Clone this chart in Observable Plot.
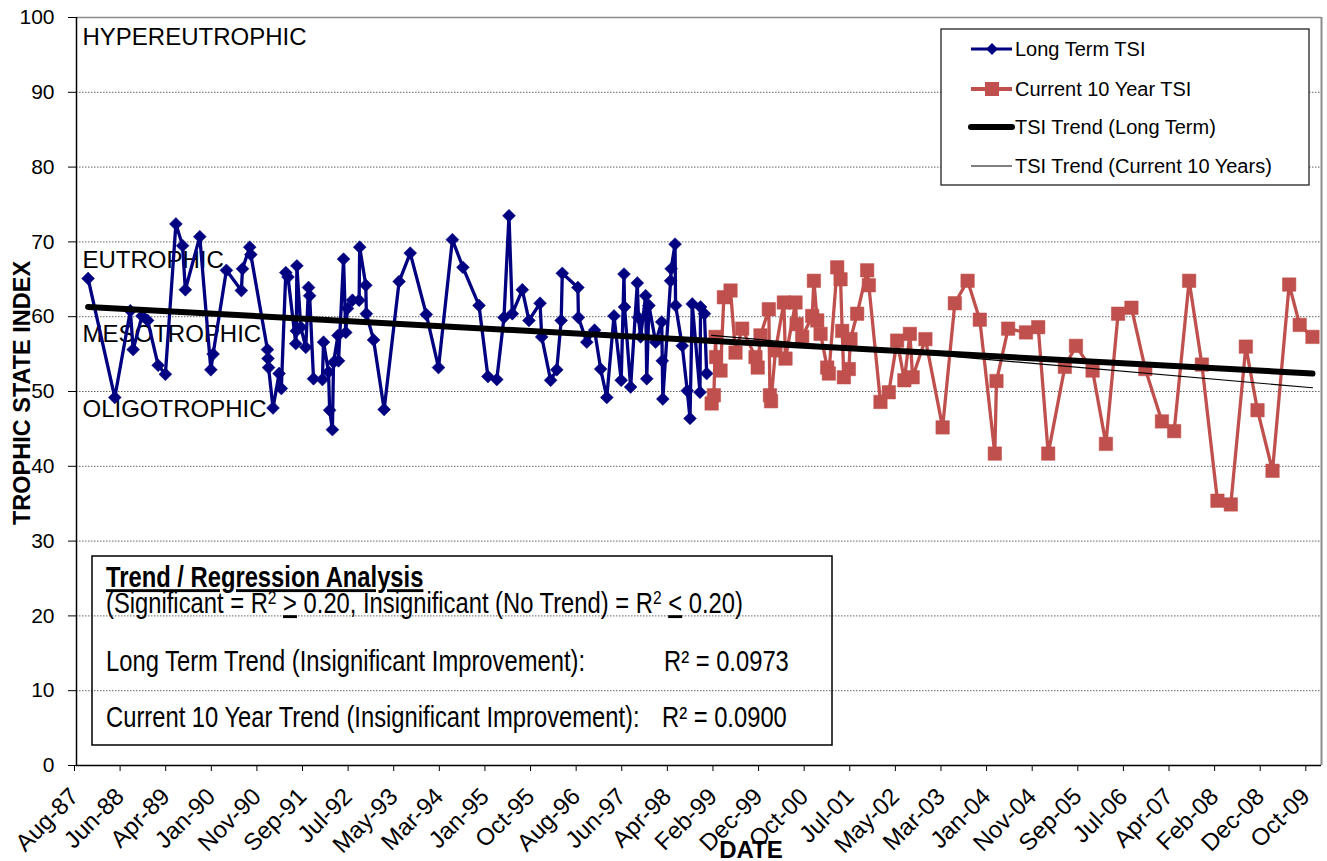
<!DOCTYPE html>
<html>
<head>
<meta charset="utf-8">
<script src="https://cdn.jsdelivr.net/npm/d3@7"></script>
<script src="https://cdn.jsdelivr.net/npm/@observablehq/plot@0.6"></script>
<style>
  html, body { margin: 0; padding: 0; background: #fff; }
  #chart { width: 1327px; height: 861px; }
</style>
</head>
<body>
<div id="chart"></div>
<script>
// ---------------- DATA ----------------
// Sampling dates as decimal years
const longTermYears = [
  1987.82, 1988.30, 1988.58, 1988.63, 1988.79, 1988.89, 1989.08, 1989.21, 1989.40, 1989.52,
  1989.57, 1989.83, 1990.03, 1990.07, 1990.31, 1990.58, 1990.60, 1990.73, 1990.75, 1991.05,
  1991.06, 1991.07, 1991.15, 1991.26, 1991.30, 1991.38, 1991.42, 1991.56, 1991.57, 1991.58,
  1991.65, 1991.74, 1991.79, 1991.81, 1991.88, 1992.04, 1992.06, 1992.15, 1992.17, 1992.22,
  1992.24, 1992.32, 1992.33, 1992.42, 1992.46, 1992.49, 1992.58, 1992.70, 1992.71, 1992.82,
  1992.83, 1992.96, 1993.15, 1993.42, 1993.62, 1993.91, 1994.13, 1994.38, 1994.57, 1994.86,
  1995.02, 1995.18, 1995.31, 1995.40, 1995.46, 1995.64, 1995.76, 1995.96, 1995.99, 1996.15,
  1996.26, 1996.34, 1996.36, 1996.64, 1996.65, 1996.80, 1996.94, 1997.05, 1997.16, 1997.29,
  1997.42, 1997.47, 1997.48, 1997.59, 1997.71, 1997.73, 1997.77, 1997.86, 1997.88, 1997.92,
  1998.04, 1998.15, 1998.16, 1998.17, 1998.31, 1998.32, 1998.39, 1998.40, 1998.52, 1998.61,
  1998.66, 1998.70, 1998.84, 1998.85, 1998.92, 1998.96
];
const longTermTSI = [
  65.1, 49.2, 60.8, 55.6, 60.1, 59.5, 53.5, 52.3, 72.4, 69.5,
  63.6, 70.7, 52.9, 55.0, 66.2, 63.5, 66.4, 69.3, 68.3, 55.6,
  54.4, 53.2, 47.8, 52.4, 50.4, 65.9, 65.3, 56.4, 58.1, 66.8,
  58.6, 55.9, 63.9, 62.8, 51.7, 51.6, 56.6, 52.6, 47.5, 44.9,
  53.9, 57.5, 54.1, 67.7, 57.9, 61.1, 62.2, 62.2, 69.3, 64.2,
  60.4, 56.9, 47.6, 64.7, 68.5, 60.3, 53.2, 70.3, 66.6, 61.5,
  52.0, 51.6, 59.9, 73.5, 60.4, 63.6, 59.5, 61.8, 57.3, 51.5,
  52.9, 59.5, 65.8, 63.9, 59.9, 56.6, 58.2, 53.0, 49.2, 60.1,
  51.5, 65.7, 61.3, 50.6, 64.5, 59.9, 57.3, 62.8, 51.7, 61.5,
  56.6, 59.3, 54.1, 49.0, 64.8, 66.4, 69.7, 61.5, 56.1, 50.1,
  46.4, 61.7, 49.9, 61.3, 60.4, 52.4
];
const currentYears = [
  1999.05, 1999.09, 1999.12, 1999.13, 1999.21, 1999.27, 1999.39, 1999.48, 1999.60, 1999.84,
  1999.88, 1999.93, 2000.08, 2000.10, 2000.12, 2000.20, 2000.35, 2000.38, 2000.56, 2000.58,
  2000.68, 2000.86, 2000.89, 2000.95, 2001.01, 2001.13, 2001.16, 2001.31, 2001.37, 2001.40,
  2001.43, 2001.52, 2001.55, 2001.67, 2001.85, 2001.88, 2002.09, 2002.24, 2002.39, 2002.52,
  2002.62, 2002.67, 2002.90, 2003.21, 2003.43, 2003.66, 2003.88, 2004.15, 2004.18, 2004.39,
  2004.71, 2004.93, 2005.11, 2005.41, 2005.61, 2005.91, 2006.15, 2006.37, 2006.61, 2006.86,
  2007.16, 2007.38, 2007.65, 2007.88, 2008.16, 2008.40, 2008.67, 2008.88, 2009.15, 2009.45,
  2009.64, 2009.87
];
const currentTSI = [
  48.4, 49.5, 57.3, 54.6, 52.8, 62.6, 63.5, 55.2, 58.4, 54.6,
  53.2, 57.5, 61.0, 49.5, 48.7, 55.5, 61.9, 54.4, 61.9, 59.0,
  57.3, 60.1, 64.8, 59.5, 57.7, 53.2, 52.4, 66.6, 65.0, 58.1,
  51.9, 53.0, 57.0, 60.4, 66.2, 64.2, 48.6, 49.9, 56.8, 51.5,
  57.7, 51.9, 57.0, 45.2, 61.8, 64.8, 59.6, 41.7, 51.4, 58.4,
  57.9, 58.6, 41.7, 53.3, 56.1, 52.8, 43.0, 60.4, 61.2, 53.0,
  46.0, 44.7, 64.8, 53.6, 35.4, 34.9, 56.0, 47.5, 39.4, 64.3,
  58.9, 57.3
];
const trendLongYears = [1987.82, 2009.87];
const trendLongTSI = [61.3, 52.4];
const trendCurrentYears = [1999.05, 2009.87];
const trendCurrentTSI = [57.5, 50.5];

const yTicks = [0, 10, 20, 30, 40, 50, 60, 70, 80, 90, 100];
const xTickLabels = ["Aug-87","Jun-88","Apr-89","Jan-90","Nov-90","Sep-91","Jul-92","May-93","Mar-94","Jan-95",
  "Oct-95","Aug-96","Jun-97","Apr-98","Feb-99","Dec-99","Oct-00","Jul-01","May-02","Mar-03",
  "Jan-04","Nov-04","Sep-05","Jul-06","Apr-07","Feb-08","Dec-08","Oct-09"];
const zoneLabels = ["HYPEREUTROPHIC", "EUTROPHIC", "MESOTROPHIC", "OLIGOTROPHIC"];
const zoneTSI = [97.3, 67.5, 57.6, 47.6];
const seriesNames = ["Long Term TSI", "Current 10 Year TSI", "TSI Trend (Long Term)", "TSI Trend (Current 10 Years)"];
const boxTitle = "Trend / Regression Analysis";
const trendNames = ["Long Term Trend (Insignificant Improvement):", "Current 10 Year Trend (Insignificant Improvement):"];
const trendR2 = ["0.0973", "0.0900"];

// ---------------- helpers ----------------
function decYear(y) {
  const yr = Math.floor(y);
  const s = Date.UTC(yr, 0, 1), e = Date.UTC(yr + 1, 0, 1);
  return new Date(s + (y - yr) * (e - s));
}
const DAY = 864e5;
const axisStart = Date.UTC(1987, 7, 12);          // Excel date axis minimum
const xTickDates = xTickLabels.map((_, i) => new Date(axisStart + i * 300 * DAY)); // 300-day major unit
const xDomain = [new Date(axisStart), new Date(axisStart + 8190 * DAY)];
const labelByTime = new Map(xTickDates.map((d, i) => [+d, xTickLabels[i]]));

const longTerm = longTermYears.map((y, i) => ({date: decYear(y), tsi: longTermTSI[i]}));
const current = currentYears.map((y, i) => ({date: decYear(y), tsi: currentTSI[i]}));
const trendLong = trendLongYears.map((y, i) => ({date: decYear(y), tsi: trendLongTSI[i]}));
const trendCurrent = trendCurrentYears.map((y, i) => ({date: decYear(y), tsi: trendCurrentTSI[i]}));
const zones = zoneLabels.map((t, i) => ({label: t, tsi: zoneTSI[i]}));

const BLUE = "#000080", RED = "#C0504D";
const FONT = "'Liberation Sans', Arial, Helvetica, sans-serif";

const chart = Plot.plot({
  width: 1327,
  height: 861,
  marginLeft: 76,
  marginRight: 6,
  marginTop: 17,
  marginBottom: 96,
  style: {fontFamily: FONT, fontSize: "21px", color: "#000", background: "#fff"},
  x: {type: "utc", domain: xDomain, label: null},
  y: {domain: [0, 100], label: null},
  marks: [
    Plot.gridY(yTicks.filter(v => v > 0 && v < 100), {stroke: "#666", strokeOpacity: 1, strokeDasharray: "1.5,1.5"}),
    Plot.ruleY([100], {stroke: "#8c8c8c", strokeWidth: 1.5}),
    Plot.ruleX([xDomain[1]], {stroke: "#8c8c8c", strokeWidth: 2}),
    Plot.text(zones, {y: "tsi", text: "label", frameAnchor: "left", textAnchor: "start", dx: 6, fontSize: 24, fill: "#000"}),
    Plot.line(longTerm, {x: "date", y: "tsi", stroke: BLUE, strokeWidth: 3.3}),
    Plot.dot(longTerm, {x: "date", y: "tsi", symbol: "diamond2", r: 5.8, fill: BLUE, stroke: BLUE, strokeWidth: 0.5}),
    Plot.line(current, {x: "date", y: "tsi", stroke: RED, strokeWidth: 3.3}),
    Plot.dot(current, {x: "date", y: "tsi", symbol: "square", r: 7.6, fill: RED, stroke: RED, strokeWidth: 0.5}),
    Plot.line(trendLong, {x: "date", y: "tsi", stroke: "#000", strokeWidth: 6, strokeLinecap: "round"}),
    Plot.line(trendCurrent, {x: "date", y: "tsi", stroke: "#000", strokeWidth: 1.2}),
    Plot.axisY({ticks: yTicks, tickSize: 8, tickPadding: 14, fontSize: 21, label: null, tickFormat: d => String(d)}),
    Plot.axisX({ticks: xTickDates, tickFormat: d => labelByTime.get(+d), tickRotate: -45, tickSize: 6, tickPadding: 21, dx: -2, fontSize: 24, label: null}),
    Plot.ruleX([xDomain[0]], {stroke: "#000", strokeWidth: 1.5}),
    Plot.ruleY([0], {stroke: "#000", strokeWidth: 1.5})
  ]
});
document.getElementById("chart").appendChild(chart);

// ---------------- overlays: axis titles, legend, regression box ----------------
const svg = d3.select(chart);

svg.append("text")
  .attr("transform", "translate(30,393) rotate(-90)")
  .attr("text-anchor", "middle")
  .attr("font-family", FONT).attr("font-weight", "bold").attr("font-size", 23.5)
  .attr("fill", "#000")
  .text("TROPHIC STATE INDEX");

svg.append("text")
  .attr("x", 751).attr("y", 858)
  .attr("text-anchor", "middle")
  .attr("font-family", FONT).attr("font-weight", "bold").attr("font-size", 24)
  .attr("fill", "#000")
  .text("DATE");

// legend
const lg = svg.append("g").attr("text-anchor", "start");
lg.append("rect").attr("x", 941).attr("y", 29).attr("width", 368).attr("height", 156)
  .attr("fill", "#fff").attr("stroke", "#222").attr("stroke-width", 1.3);
const rowsY = [49, 89, 127, 166];
const lx0 = 971, lx1 = 1012, lxm = 992;
// row 1
lg.append("line").attr("x1", lx0).attr("x2", lx1).attr("y1", rowsY[0]).attr("y2", rowsY[0]).attr("stroke", BLUE).attr("stroke-width", 3);
lg.append("path").attr("d", d3.symbol(d3.symbolDiamond2, 90)()).attr("transform", `translate(${lxm},${rowsY[0]})`).attr("fill", BLUE);
// row 2
lg.append("line").attr("x1", lx0).attr("x2", lx1).attr("y1", rowsY[1]).attr("y2", rowsY[1]).attr("stroke", RED).attr("stroke-width", 4);
lg.append("rect").attr("x", lxm - 7).attr("y", rowsY[1] - 7).attr("width", 14).attr("height", 14).attr("fill", RED);
// row 3
lg.append("line").attr("x1", lx0).attr("x2", lx1).attr("y1", rowsY[2]).attr("y2", rowsY[2]).attr("stroke", "#000").attr("stroke-width", 6).attr("stroke-linecap", "round");
// row 4
lg.append("line").attr("x1", lx0).attr("x2", lx1).attr("y1", rowsY[3]).attr("y2", rowsY[3]).attr("stroke", "#000").attr("stroke-width", 1.2);
seriesNames.forEach((name, i) => {
  lg.append("text").attr("x", 1015).attr("y", rowsY[i]).attr("dy", "0.35em")
    .attr("text-anchor", "start")
    .attr("font-family", FONT).attr("font-size", 20).attr("fill", "#000").text(name);
});

// regression analysis box
svg.append("rect").attr("x", 92).attr("y", 556).attr("width", 740).attr("height", 189)
  .attr("fill", "none").attr("stroke", "#000").attr("stroke-width", 1.5);

function narrow(x, y) {
  return svg.append("g").attr("transform", `translate(${x},${y}) scale(0.82,1)`)
    .append("text").attr("x", 0).attr("y", 0)
    .attr("text-anchor", "start")
    .attr("font-family", FONT).attr("font-size", 29).attr("fill", "#000");
}
narrow(106, 587).attr("font-weight", "bold").attr("text-decoration", "underline").text(boxTitle);

const l2 = narrow(106, 613);
l2.append("tspan").text("(Significant = R");
l2.append("tspan").attr("dy", -9).attr("font-size", 19).text("2");
l2.append("tspan").attr("dy", 9).text(" ");
l2.append("tspan").attr("text-decoration", "underline").text(">");
l2.append("tspan").text(" 0.20, Insignificant (No Trend) = R");
l2.append("tspan").attr("dy", -9).attr("font-size", 19).text("2");
l2.append("tspan").attr("dy", 9).text(" ");
l2.append("tspan").attr("text-decoration", "underline").text("<");
l2.append("tspan").text(" 0.20)");

narrow(106, 671).text(trendNames[0]);
narrow(664, 671).text("R² = " + trendR2[0]);
narrow(106, 727).text(trendNames[1]);
narrow(662, 727).text("R² = " + trendR2[1]);
</script>
</body>
</html>
